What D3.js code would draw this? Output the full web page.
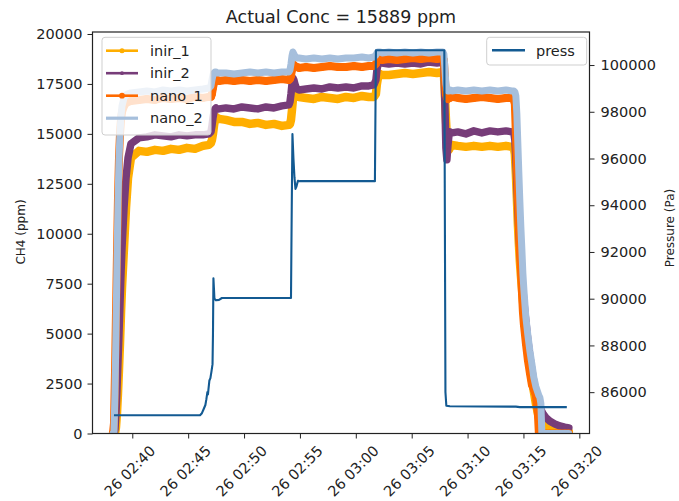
<!DOCTYPE html>
<html>
<head>
<meta charset="utf-8">
<script src="https://cdn.jsdelivr.net/npm/d3@7"></script>
<style>
  html, body { margin: 0; padding: 0; background: #fff; }
  svg { display: block; }
  text { font-family: "DejaVu Sans", sans-serif; fill: #222; }
</style>
</head>
<body>
<div id="chart"></div>
<script>
// ---- data (time in minutes after 26 02:40) ----
const minutes = [-1.73,-1.64,-1.55,-1.46,-1.37,-1.28,-1.19,-1.10,-1.01,-0.92,
  -0.74,-0.56,-0.38,-0.12,
  0.60,1.31,2.03,2.75,3.46,4.18,4.89,5.61,6.32,6.86,
  7.04,7.13,7.22,7.31,7.40,7.49,7.58,7.76,
  8.38,9.10,9.81,10.53,11.24,11.96,12.68,13.39,14.02,
  14.11,14.20,14.29,14.37,14.46,14.55,14.64,14.73,14.91,
  15.54,16.25,16.97,17.68,18.40,19.12,19.83,20.55,21.17,21.62,
  21.80,21.89,21.98,22.07,22.16,22.34,
  22.96,23.68,24.39,25.11,25.82,26.54,27.26,27.79,
  27.88,27.97,28.06,28.15,28.24,28.33,28.42,28.60,
  29.13,29.85,30.56,31.28,32.00,32.71,33.43,33.96,
  34.14,34.23,34.32,34.41,34.50,34.59,34.68,34.77,34.86,34.95,35.04,
  35.22,35.39,35.57,35.75,35.93,36.11,36.29,
  36.38,36.47,36.56,36.65,36.74,
  37.00,37.36,37.81,38.26,38.70,39.06];

const inir1 = [0,0,0,300,1000,2000,3200,4500,6000,7300,
  9300,11300,12800,13800,
  14150,14100,14200,14150,14250,14200,14300,14250,14400,14450,
  14550,14700,15000,15400,15700,15850,15800,15750,
  15700,15600,15600,15500,15550,15450,15500,15400,15450,
  15500,15700,16200,16700,17000,17100,17000,16900,16850,
  16800,16750,16850,16800,16750,16850,16800,16900,16850,16850,
  17000,17500,17800,17950,18000,17950,
  17950,18000,18050,18000,18050,18100,18050,18100,
  18000,17000,15800,14800,14300,14200,14300,14450,
  14400,14350,14400,14350,14400,14350,14400,14350,
  14300,14000,13000,11800,10500,9500,8600,7900,7300,6700,6100,
  5100,4200,3400,2700,2100,1500,1000,
  800,600,500,450,400,
  350,300,230,170,130,100];

const inir2 = [0,0,200,1000,2200,3600,5000,6500,8000,9300,
  11300,12800,13800,14500,
  14800,14850,14950,14900,14850,14950,14900,14950,14950,15000,
  15100,15400,15800,16100,16250,16300,16250,16250,
  16300,16250,16350,16300,16250,16350,16300,16400,16450,
  16600,17000,17500,17800,17700,17500,17350,17250,17200,
  17250,17300,17250,17350,17300,17350,17300,17400,17400,17450,
  17700,18200,18450,18550,18600,18550,
  18500,18550,18500,18550,18500,18600,18550,18600,
  18400,16500,14300,13700,14400,14900,15100,15050,
  15100,15000,15150,15050,15150,15100,15150,15100,
  15050,14700,13800,12500,11200,10100,9200,8500,7800,7200,6600,
  5600,4700,3900,3200,2600,2000,1600,
  1400,1300,1200,1100,1000,
  800,620,480,380,320,280];

const nano1 = [0,500,3000,6000,9000,11800,13800,15000,15700,16100,
  16400,16550,16600,16650,
  16700,16750,16700,16800,16750,16800,16750,16850,16800,16850,
  16850,17000,17300,17550,17650,17700,17700,17650,
  17700,17650,17700,17650,17700,17650,17700,17750,17700,
  17750,17900,18200,18400,18450,18400,18350,18350,18300,
  18350,18300,18350,18400,18350,18350,18400,18350,18400,18400,
  18500,18650,18700,18750,18750,18700,
  18750,18700,18750,18800,18750,18800,18750,18800,
  18700,17800,17000,16800,16750,16800,16800,16850,
  16800,16750,16800,16850,16800,16750,16800,16800,
  16700,16500,15000,13500,12000,10500,9200,8300,7100,6100,5450,
  4500,3700,3050,2450,2200,1900,1000,
  0,0,0,0,0,
  0,0,0,0,0,0];

const nano2 = [0,0,2000,5000,8500,11500,13700,15000,15900,16400,
  16800,16950,17000,17050,
  17100,17150,17100,17200,17150,17200,17150,17200,17250,17300,
  17400,17700,17950,18050,18100,18100,18050,18050,
  18050,18000,18050,18100,18050,18100,18050,18100,18100,
  18200,18500,18900,19100,19000,18900,18850,18800,18800,
  18750,18800,18750,18800,18750,18800,18800,18850,18800,18850,
  18950,19050,19100,19100,19100,19050,
  19100,19050,19100,19050,19100,19050,19100,19100,
  19000,18300,17500,17200,17150,17150,17200,17150,
  17200,17150,17200,17150,17200,17150,17200,17150,
  17150,17100,16900,16000,14500,13000,11600,10300,9200,8000,7200,
  5800,4950,4160,3500,2800,2350,2050,
  1900,1800,1500,0,0,
  0,0,0,0,0,0];

const pressMinutes = [-1.64,6.06,6.23,6.41,6.54,6.63,6.72,6.77,6.81,6.90,
  6.99,7.09,7.18,7.22,7.26,7.31,7.35,7.49,7.76,8.02,
  14.20,14.27,14.33,14.42,14.51,14.60,14.69,14.82,15.00,21.71,
  21.80,27.92,28.02,28.10,28.42,34.32,34.68,38.88];
const pressValues = [85010,85010,85100,85300,85450,85700,86000,85900,86100,86500,
  86600,86900,87200,88500,90870,90400,90000,89930,89950,90030,
  90030,94000,97050,96000,95200,94700,94800,95050,95030,95030,
  100630,100630,86000,85420,85400,85380,85360,85360];

const seriesNames = ["inir_1","inir_2","nano_1","nano_2"];
const leftTicks = [0,2500,5000,7500,10000,12500,15000,17500,20000];
const rightTicks = [86000,88000,90000,92000,94000,96000,98000,100000];
const titleText = "Actual Conc = 15889 ppm";

// ---- layout / style ----
const W = 679, H = 501;
const L = 92.5, R = 589.5, T = 32, B = 433.5;
const colors = { inir_1: "#ffae00", inir_2: "#773d79", nano_1: "#ff6a00", nano_2: "#a6bfdc", press: "#135a92" };
const bandW = { inir_1: 8.5, inir_2: 7.5, nano_1: 8, nano_2: 7 };
const markR = { inir_1: 3.6, inir_2: 2.4, nano_1: 3.8, nano_2: 2.4 };
const seriesVals = { inir_1: inir1, inir_2: inir2, nano_1: nano1, nano_2: nano2 };

const base = new Date(2021, 0, 26, 2, 40, 0).getTime();
const toDate = m => new Date(base + m * 60000);

const x = d3.scaleTime().domain([toDate(-3.56), toDate(40.91)]).range([L, R]);
const yL = d3.scaleLinear().domain([0, 20100]).range([B, T]);
const yR = d3.scaleLinear().domain([84231, 101414]).range([B, T]);

const svg = d3.select("#chart").append("svg").attr("width", W).attr("height", H);
svg.append("rect").attr("width", W).attr("height", H).attr("fill", "#fff");

svg.append("clipPath").attr("id", "clip").append("rect")
  .attr("x", L).attr("y", T).attr("width", R - L).attr("height", B - T);

const plot = svg.append("g").attr("clip-path", "url(#clip)");

seriesNames.forEach(name => {
  const vals = seriesVals[name];
  const pts = minutes.map((m, i) => [toDate(m), vals[i]]);
  const line = d3.line().x(d => x(d[0])).y(d => yL(d[1]));
  plot.append("path").datum(pts)
    .attr("d", line)
    .attr("fill", "none")
    .attr("stroke", colors[name])
    .attr("stroke-width", bandW[name])
    .attr("stroke-linejoin", "round")
    .attr("stroke-linecap", "round");
  plot.append("g").selectAll("circle").data(pts).join("circle")
    .attr("cx", d => x(d[0])).attr("cy", d => yL(d[1]))
    .attr("r", markR[name]).attr("fill", colors[name]);
});

// left axis
const axL = svg.append("g").attr("transform", `translate(${L},0)`)
  .call(d3.axisLeft(yL).tickValues(leftTicks).tickSize(5).tickPadding(5).tickFormat(d3.format("d")));
axL.select(".domain").remove();
axL.selectAll("text").style("font-size", "14.5px").attr("fill", "#222");
axL.selectAll("line").attr("stroke", "#222");

// bottom axis
const axB = svg.append("g").attr("transform", `translate(0,${B})`)
  .call(d3.axisBottom(x).ticks(d3.timeMinute.every(5)).tickSize(5).tickFormat(d3.timeFormat("%d %H:%M")));
axB.select(".domain").remove();
axB.selectAll("line").attr("stroke", "#222");
axB.selectAll("text")
  .style("font-size", "14.5px").attr("fill", "#222")
  .attr("text-anchor", "middle")
  .attr("dominant-baseline", "central")
  .attr("dy", null)
  .attr("x", -3).attr("y", 37.5)
  .attr("transform", "rotate(-45,-3,37.5)");

// legend 1 (ax1)
const lg = svg.append("g");
lg.append("rect").attr("x", 102).attr("y", 37.3).attr("width", 109).attr("height", 97.7)
  .attr("rx", 3).attr("fill", "#fff").attr("fill-opacity", 0.8)
  .attr("stroke", "#cfcfcf").attr("stroke-width", 1);
seriesNames.forEach((name, i) => {
  const yy = 50.7 + i * 22.5;
  lg.append("line").attr("x1", 106).attr("x2", 138).attr("y1", yy).attr("y2", yy)
    .attr("stroke", colors[name]).attr("stroke-width", name === "nano_2" ? 3.2 : 2.6);
  if (name !== "nano_2") {
    lg.append("circle").attr("cx", 122).attr("cy", yy)
      .attr("r", name === "inir_2" ? 1.9 : (name === "nano_1" ? 2.9 : 2.5)).attr("fill", colors[name]);
  }
  lg.append("text").attr("x", 150).attr("y", yy + 5.2).style("font-size", "14.5px").text(name);
});

// press (twin axis) drawn on top
const pressPts = pressMinutes.map((m, i) => [toDate(m), pressValues[i]]);
svg.append("g").attr("clip-path", "url(#clip)").append("path").datum(pressPts)
  .attr("d", d3.line().x(d => x(d[0])).y(d => yR(d[1])))
  .attr("fill", "none").attr("stroke", colors.press).attr("stroke-width", 2.1)
  .attr("stroke-linejoin", "round");

// right axis
const axR = svg.append("g").attr("transform", `translate(${R},0)`)
  .call(d3.axisRight(yR).tickValues(rightTicks).tickSize(5).tickPadding(6).tickFormat(d3.format("d")));
axR.select(".domain").remove();
axR.selectAll("text").style("font-size", "14.5px").attr("fill", "#222");
axR.selectAll("line").attr("stroke", "#222");

// frame
svg.append("rect").attr("x", L).attr("y", T).attr("width", R - L).attr("height", B - T)
  .attr("fill", "none").attr("stroke", "#222").attr("stroke-width", 1.2);

// legend 2 (press)
const lg2 = svg.append("g");
lg2.append("rect").attr("x", 486.7).attr("y", 37.3).attr("width", 100).attr("height", 27.7)
  .attr("rx", 3).attr("fill", "#fff").attr("fill-opacity", 0.8)
  .attr("stroke", "#cfcfcf").attr("stroke-width", 1);
lg2.append("line").attr("x1", 492).attr("x2", 525).attr("y1", 50.3).attr("y2", 50.3)
  .attr("stroke", colors.press).attr("stroke-width", 2.6);
lg2.append("text").attr("x", 536).attr("y", 55.5).style("font-size", "14.5px").text("press");

// axis labels
svg.append("text").attr("transform", "translate(21,232) rotate(-90)")
  .attr("text-anchor", "middle").attr("dominant-baseline", "central")
  .style("font-size", "12px").text("CH4 (ppm)");
svg.append("text").attr("transform", "translate(670,228) rotate(-90)")
  .attr("text-anchor", "middle").attr("dominant-baseline", "central")
  .style("font-size", "12px").text("Pressure (Pa)");

// title
svg.append("text").attr("x", (L + R) / 2).attr("y", 23).attr("text-anchor", "middle")
  .style("font-size", "17.5px").text(titleText);
</script>
</body>
</html>
